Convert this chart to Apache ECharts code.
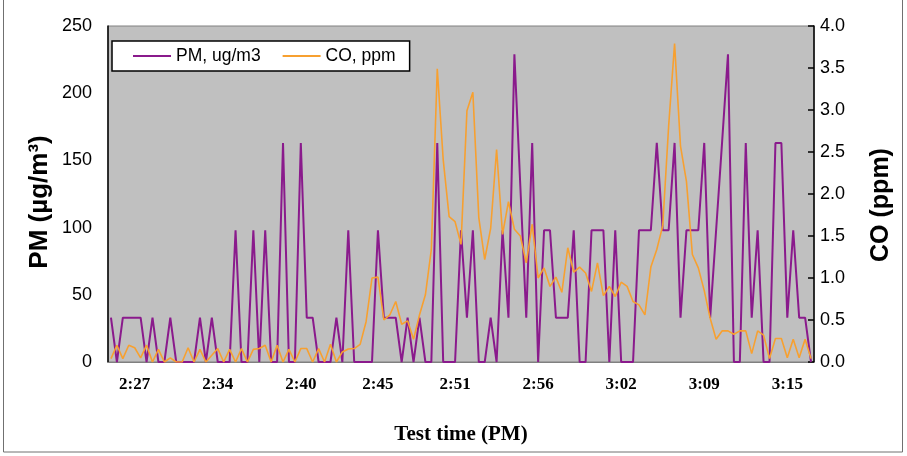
<!DOCTYPE html>
<html>
<head>
<meta charset="utf-8">
<script src="https://cdn.jsdelivr.net/npm/echarts@6/dist/echarts.min.js"></script>
<style>
html,body{margin:0;padding:0;background:#fff;}
#chart{width:907px;height:456px;}
</style>
</head>
<body>
<div id="chart"></div>
<script>
// Tick labels of the time axis and the sample index they sit on
const timeLabels = ['2:27','2:34','2:40','2:45','2:51','2:56','3:02','3:09','3:15'];
const timeLabelIndex = [4,18,32,45,58,72,86,100,114];

// PM, ug/m3 (left axis)
const pmValues = [
  33,0,33,33,33,33,0,33,0,0,
  33,0,0,0,0,33,0,33,0,0,
  0,98,0,0,98,0,98,0,0,163,
  0,0,163,33,33,0,0,0,33,0,
  98,0,0,0,0,98,33,33,33,0,
  33,0,33,0,0,163,0,0,0,98,
  33,98,0,0,33,0,98,33,229,131,
  33,163,0,98,98,33,33,33,98,0,
  0,98,98,98,0,98,0,0,0,98,
  98,98,163,98,98,163,33,98,98,98,
  163,33,98,163,229,0,0,163,33,98,
  0,0,163,163,33,98,33,33,0
];

// CO, ppm (right axis)
const coValues = [
  0.04,0.20,0.04,0.20,0.17,0.05,0.20,0.00,0.15,0.00,
  0.05,0.00,0.00,0.17,0.00,0.15,0.00,0.08,0.16,0.00,
  0.15,0.00,0.16,0.00,0.15,0.16,0.20,0.00,0.20,0.00,
  0.15,0.00,0.16,0.16,0.00,0.16,0.00,0.21,0.00,0.12,
  0.155,0.16,0.21,0.48,1.00,1.01,0.50,0.56,0.72,0.45,
  0.49,0.27,0.56,0.80,1.34,3.49,2.41,1.73,1.67,1.40,
  2.99,3.21,1.72,1.22,1.59,2.53,1.52,1.91,1.58,1.50,
  1.18,1.64,1.00,1.12,0.90,1.01,0.83,1.36,1.07,1.13,
  1.06,0.84,1.18,0.79,0.90,0.78,0.95,0.90,0.72,0.68,
  0.56,1.13,1.34,1.62,2.81,3.79,2.57,2.15,1.28,1.12,
  0.85,0.52,0.27,0.37,0.37,0.33,0.37,0.37,0.10,0.37,
  0.32,0.04,0.28,0.28,0.05,0.27,0.05,0.27,0.04
];

// Axis titles
const leftTitle = 'PM (µg/m³)';
const rightTitle = 'CO (ppm)';
const bottomTitle = 'Test time (PM)';

const categories = pmValues.map((v, i) => 'p' + i);

const SANS = 'Liberation Sans, Arial, sans-serif';
const SERIF = 'Liberation Serif, Times New Roman, serif';

const chart = echarts.init(document.getElementById('chart'), null, {renderer: 'canvas'});
const option = {
  backgroundColor: '#ffffff',
  animation: false,
  grid: {
    left: 108, right: 93, top: 26, bottom: 94,
    show: true, backgroundColor: '#C0C0C0', borderColor: '#808080', borderWidth: 1
  },
  legend: {
    left: 112, top: 41,
    itemGap: 22,
    padding: [6, 14, 6, 21],
    backgroundColor: '#ffffff',
    borderColor: '#000000', borderWidth: 1.5,
    itemWidth: 38, itemHeight: 2,
    icon: 'rect',
    textStyle: {fontFamily: SANS, fontSize: 17.5, color: '#000'},
    data: ['PM, ug/m3', 'CO, ppm']
  },
  graphic: [{
    type: 'rect', silent: true,
    shape: {x: 3.5, y: -2, width: 899, height: 454},
    style: {fill: 'none', stroke: '#707070', lineWidth: 1}
  }, {
    type: 'text', silent: true,
    x: 40, y: 202, rotation: Math.PI / 2,
    style: {text: leftTitle, font: 'bold 26px ' + SANS, fill: '#000',
      textAlign: 'center', textVerticalAlign: 'middle'}
  }, {
    type: 'text', silent: true,
    x: 881, y: 205, rotation: Math.PI / 2,
    style: {text: rightTitle, font: 'bold 25px ' + SANS, fill: '#000',
      textAlign: 'center', textVerticalAlign: 'middle'}
  }],
  xAxis: {
    type: 'category',
    data: categories,
    boundaryGap: true,
    name: bottomTitle,
    nameLocation: 'middle',
    nameGap: 62,
    nameTextStyle: {fontFamily: SERIF, fontWeight: 'bold', fontSize: 21, color: '#000'},
    axisLine: {show: true, lineStyle: {color: '#808080', width: 1}},
    axisTick: {show: false},
    axisLabel: {
      interval: (index) => timeLabelIndex.indexOf(index) >= 0,
      formatter: (value, index) => {
        const k = timeLabelIndex.indexOf(index);
        return k >= 0 ? timeLabels[k] : '';
      },
      margin: 14,
      fontFamily: SERIF, fontWeight: 'bold', fontSize: 17, color: '#000'
    },
    splitLine: {show: false}
  },
  yAxis: [{
    type: 'value',
    min: 0, max: 250, interval: 50,
    axisLine: {show: true, lineStyle: {color: '#000', width: 1.5}},
    axisTick: {show: false},
    axisLabel: {fontFamily: SANS, fontSize: 18, color: '#000', margin: 16},
    splitLine: {show: false}
  }, {
    type: 'value',
    min: 0, max: 4, interval: 0.5,
    axisLine: {show: true, lineStyle: {color: '#000', width: 1.5}},
    axisTick: {show: true, inside: true, length: 6, lineStyle: {color: '#000', width: 1.5}},
    axisLabel: {fontFamily: SANS, fontSize: 18, color: '#000', margin: 6,
      formatter: (v) => v.toFixed(1)},
    splitLine: {show: false}
  }],
  series: [{
    name: 'PM, ug/m3',
    type: 'line',
    yAxisIndex: 0,
    data: pmValues,
    symbol: 'none',
    lineStyle: {color: '#8A1A8C', width: 2},
    itemStyle: {color: '#8A1A8C'},
    z: 2
  }, {
    name: 'CO, ppm',
    type: 'line',
    yAxisIndex: 1,
    data: coValues,
    symbol: 'none',
    lineStyle: {color: '#F7A030', width: 1.6},
    itemStyle: {color: '#F7A030'},
    z: 3
  }]
};
chart.setOption(option);
</script>
</body>
</html>
